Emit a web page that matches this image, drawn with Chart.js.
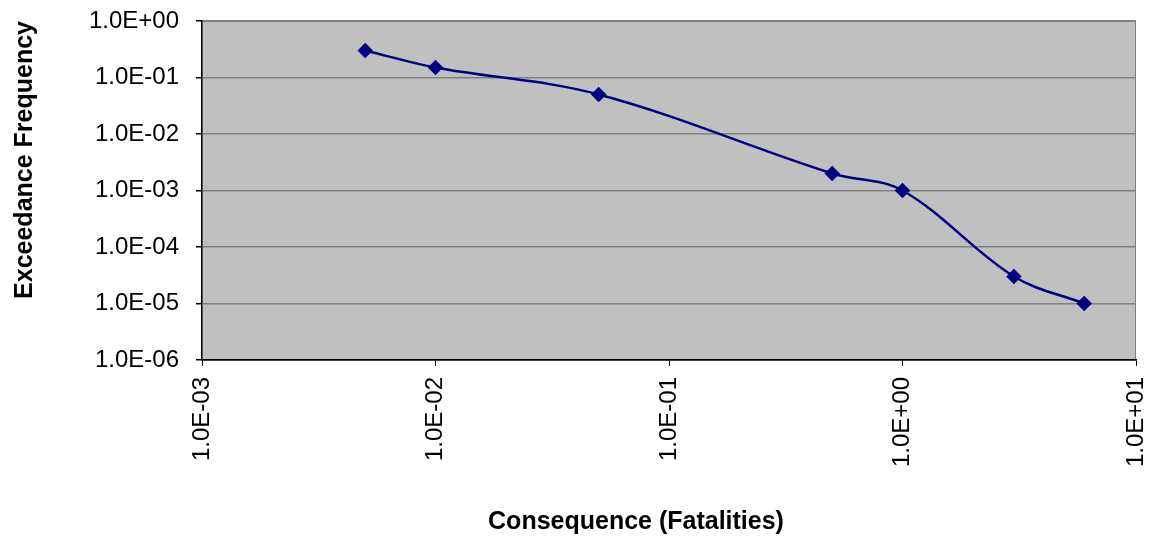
<!DOCTYPE html>
<html>
<head>
<meta charset="utf-8">
<script src="https://cdn.jsdelivr.net/npm/chart.js@4.4.0/dist/chart.umd.min.js"></script>
<style>
  html, body { margin: 0; padding: 0; background: #fff; }
  #wrap { width: 1151px; height: 536px; }
</style>
</head>
<body>
<div id="wrap"><canvas id="fn"></canvas></div>
<script>
// consequence (fatalities) vs exceedance frequency
const consequence = [0.005, 0.01, 0.05, 0.5, 1, 3, 6];
const frequency   = [0.3, 0.15, 0.05, 0.002, 0.001, 3e-5, 1e-5];
const xTicks = [1e-3, 1e-2, 1e-1, 1e0, 1e1];
const yTicks = [1e-6, 1e-5, 1e-4, 1e-3, 1e-2, 1e-1, 1e0];
const xTitle = "Consequence (Fatalities)";
const yTitle = "Exceedance Frequency";

const fmtExp = v => {
  const e = Math.round(Math.log10(v));
  return "1.0E" + (e < 0 ? "-" : "+") + String(Math.abs(e)).padStart(2, "0");
};

const font = { family: "Arial, 'Liberation Sans', sans-serif", size: 24 };
const titleFont = { family: "Arial, 'Liberation Sans', sans-serif", size: 25, weight: "bold" };

// labels may overflow the plot edge; don't let them shrink the plot
const noOverflow = s => {
  s.paddingTop = s.paddingBottom = s.paddingLeft = s.paddingRight = 0;
};

// grey plot area like the spreadsheet chart
const plotBg = {
  id: "plotBg",
  beforeDraw(chart) {
    const { ctx, chartArea: a } = chart;
    ctx.save();
    ctx.fillStyle = "#c0c0c0";
    ctx.fillRect(a.left, a.top, a.right - a.left, a.bottom - a.top);
    ctx.strokeStyle = "#808080";
    ctx.lineWidth = 1;
    ctx.strokeRect(a.left, a.top + 0.5, a.right - a.left - 0.5, a.bottom - a.top);
    ctx.restore();
  }
};

// x title sits a bit left of the plot centre in the original
const xTitlePlugin = {
  id: "xTitle",
  afterDraw(chart) {
    const { ctx } = chart;
    ctx.save();
    ctx.font = "bold 25px Arial, 'Liberation Sans', sans-serif";
    ctx.fillStyle = "#000";
    ctx.textAlign = "center";
    ctx.textBaseline = "middle";
    ctx.fillText(xTitle, 636, 522);
    ctx.restore();
  }
};

new Chart(document.getElementById("fn"), {
  type: "line",
  data: {
    datasets: [{
      data: consequence.map((x, i) => ({ x, y: frequency[i] })),
      borderColor: "#000080",
      backgroundColor: "#000080",
      borderWidth: 2.5,
      pointStyle: "rectRot",
      pointRadius: 6,
      pointHoverRadius: 6,
      tension: 0.35,
      fill: false
    }]
  },
  options: {
    responsive: true,
    maintainAspectRatio: false,
    animation: false,
    layout: { padding: { top: 21, right: 15, bottom: 0, left: 0 } },
    plugins: { legend: { display: false }, tooltip: { enabled: false } },
    scales: {
      x: {
        type: "logarithmic",
        min: 1e-3, max: 10,
        afterBuildTicks: s => { s.ticks = xTicks.map(v => ({ value: v })); },
        afterFit: s => { s.height = 176; noOverflow(s); },
        grid: { drawOnChartArea: false, color: "#000", tickLength: 6 },
        border: { color: "#000", width: 1.5 },
        ticks: {
          color: "#000", font, minRotation: 90, maxRotation: 90, padding: 11,
          autoSkip: false, callback: v => fmtExp(v)
        }
      },
      y: {
        type: "logarithmic",
        min: 1e-6, max: 1,
        afterBuildTicks: s => { s.ticks = yTicks.map(v => ({ value: v })); },
        afterFit: s => { s.width = 202; noOverflow(s); },
        grid: { color: "#808080", tickColor: "#000", tickLength: 6, lineWidth: 1.5 },
        border: { color: "#000", width: 1.5 },
        ticks: {
          color: "#000", font, padding: 17, autoSkip: false,
          callback: v => fmtExp(v)
        },
        title: {
          display: true, text: yTitle, color: "#000", align: "end",
          font: titleFont, padding: { top: 10, bottom: 0 }
        }
      }
    }
  },
  plugins: [plotBg, xTitlePlugin]
});
</script>
</body>
</html>
